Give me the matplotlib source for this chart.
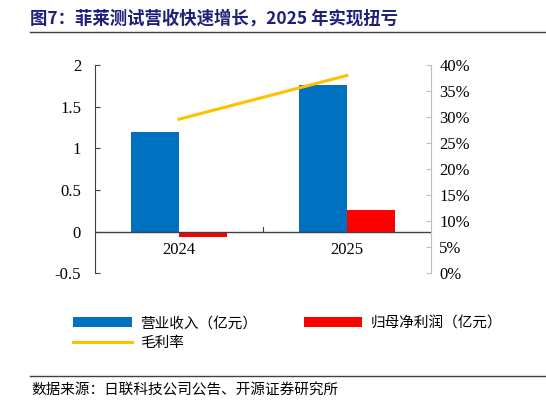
import numpy as np
import matplotlib.pyplot as plt
from matplotlib.lines import Line2D

plt.rcParams['font.family'] = ['Liberation Serif', 'Noto Sans CJK SC']

# =========================
# DATOS
# =========================
years = ['2024', '2025']
revenue = [1.20, 1.76]      # 营业收入（亿元）
net_profit = [-0.07, 0.26]  # 归母净利润（亿元）
margin = [29.6, 38.0]       # 毛利率 %

blue = '#0070C0'
red = '#FF0000'
gold = '#FFC000'
cjk = ['Noto Sans CJK SC', 'DejaVu Sans']

fig = plt.figure(figsize=(5.46, 4.07), dpi=100)
ax = fig.add_axes([0.174, 0.329, 0.615, 0.511])
ax2 = ax.twinx()

x = np.arange(len(years))
w = 0.286
b1 = ax.bar(x - w/2, revenue, w, color=blue, label='营业收入（亿元）')
b2 = ax.bar(x + w/2, net_profit, w, color=red, label='归母净利润（亿元）')
l1, = ax2.plot(x, margin, color=gold, lw=2.2, label='毛利率')

ax.set_xlim(-0.5, 1.5)
ax.set_ylim(-0.5, 2)
ax.set_yticks([-0.5, 0, 0.5, 1, 1.5, 2])
ax.set_yticklabels(['-0.5', '0', '0.5', '1', '1.5', '2'])
ax2.set_ylim(0, 40)
ax2.set_yticks(range(0, 41, 5))
ax2.set_yticklabels([f'{v}%' for v in range(0, 41, 5)])

# eje x en cero
ax.axhline(0, color='#404040', lw=1)
ax.set_xticks([])
for i, yr in enumerate(years):
    ax.text(i, -0.22, yr, ha='center', va='center', fontsize=12)
ax.plot([0.5, 0.5], [0, 0.05], color='#404040', lw=0.8)

for s in ['top', 'bottom']:
    ax.spines[s].set_visible(False)
    ax2.spines[s].set_visible(False)
ax.spines['right'].set_visible(False)
ax.spines['left'].set_color('#404040')
ax2.spines['left'].set_visible(False)
ax2.spines['right'].set_color('#BFBFBF')
ax.tick_params(axis='y', direction='in', labelsize=12, pad=10, color='#404040')
ax2.tick_params(axis='y', direction='in', labelsize=12, pad=6, color='#BFBFBF')

# =========================
# TÍTULO / LEYENDA / FUENTE
# =========================
fig.text(0.055, 0.955, '图7：菲莱测试营收快速增长，2025 年实现扭亏', fontsize=12.5,
         fontweight='bold', color='#1F1F7A', family=cjk, va='center')
fig.add_artist(Line2D([0.055, 1.0], [0.921, 0.921], color='#404040', lw=1))

leg = fig.legend(handles=[b1, l1, b2], loc='upper left', bbox_to_anchor=(0.11, 0.255),
                 ncol=2, frameon=False, prop={'family': cjk, 'size': 10.5},
                 handlelength=4, columnspacing=3.2, handletextpad=0.6, labelspacing=0.4)

fig.add_artist(Line2D([0.055, 1.0], [0.077, 0.077], color='#404040', lw=1))
fig.text(0.058, 0.04, '数据来源：日联科技公司公告、开源证券研究所', fontsize=10.5,
         family=cjk, va='center')

fig.savefig('out.png', dpi=100)
